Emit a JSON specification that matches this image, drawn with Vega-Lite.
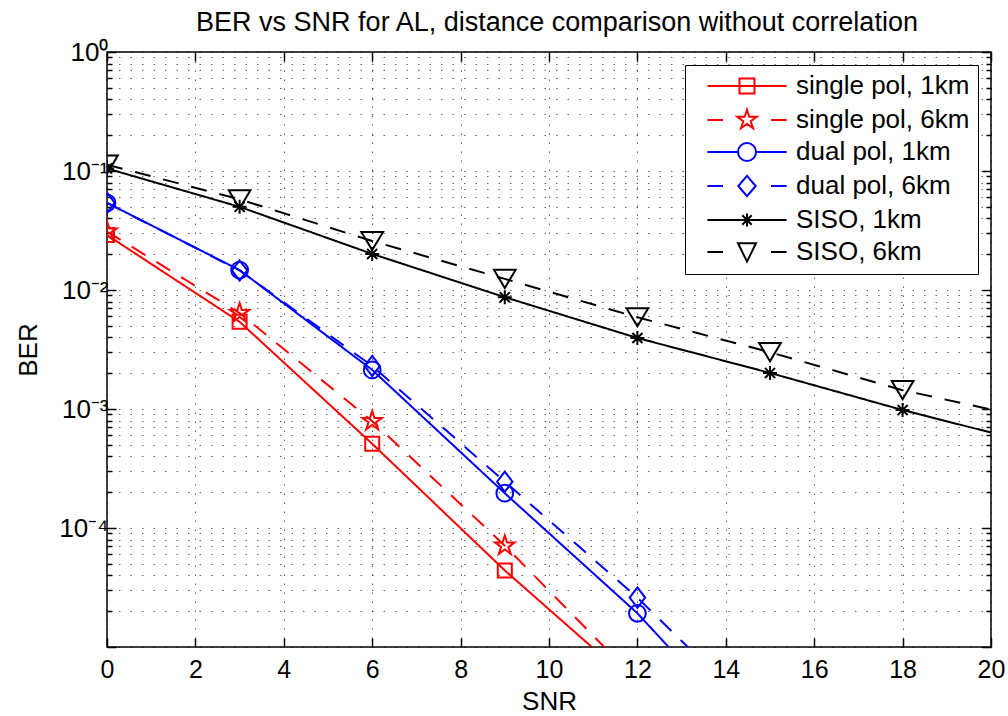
{
  "$schema": "https://vega.github.io/schema/vega-lite/v6.json",
  "width": 884,
  "height": 595,
  "autosize": {"type": "none"},
  "padding": {"left": 107, "top": 52, "right": 17, "bottom": 69},
  "background": "white",
  "title": {"text": "BER vs SNR for AL, distance comparison without correlation", "font": "Liberation Sans", "fontSize": 27, "fontWeight": "normal", "color": "black", "anchor": "middle", "offset": 2, "dx": 8},
  "data": {"values": [
    {"series": "single pol, 1km", "snr": 0, "ber": 0.029},
    {"series": "single pol, 1km", "snr": 3, "ber": 0.0054},
    {"series": "single pol, 1km", "snr": 6, "ber": 0.00051},
    {"series": "single pol, 1km", "snr": 9, "ber": 0.000044},
    {"series": "single pol, 1km", "snr": 12, "ber": 0.0000046},
    {"series": "single pol, 6km", "snr": 0, "ber": 0.031},
    {"series": "single pol, 6km", "snr": 3, "ber": 0.0064},
    {"series": "single pol, 6km", "snr": 6, "ber": 0.00079},
    {"series": "single pol, 6km", "snr": 9, "ber": 0.000071},
    {"series": "single pol, 6km", "snr": 12, "ber": 0.0000052},
    {"series": "dual pol, 1km", "snr": 0, "ber": 0.054},
    {"series": "dual pol, 1km", "snr": 3, "ber": 0.0147},
    {"series": "dual pol, 1km", "snr": 6, "ber": 0.00213},
    {"series": "dual pol, 1km", "snr": 9, "ber": 0.000196},
    {"series": "dual pol, 1km", "snr": 12, "ber": 0.0000192},
    {"series": "dual pol, 1km", "snr": 15, "ber": 0.0000012},
    {"series": "dual pol, 6km", "snr": 0, "ber": 0.054},
    {"series": "dual pol, 6km", "snr": 3, "ber": 0.0146},
    {"series": "dual pol, 6km", "snr": 6, "ber": 0.0023},
    {"series": "dual pol, 6km", "snr": 9, "ber": 0.000245},
    {"series": "dual pol, 6km", "snr": 12, "ber": 0.000026},
    {"series": "dual pol, 6km", "snr": 15, "ber": 0.0000021},
    {"series": "SISO, 1km", "snr": 0, "ber": 0.105},
    {"series": "SISO, 1km", "snr": 3, "ber": 0.05},
    {"series": "SISO, 1km", "snr": 6, "ber": 0.0201},
    {"series": "SISO, 1km", "snr": 9, "ber": 0.0087},
    {"series": "SISO, 1km", "snr": 12, "ber": 0.00395},
    {"series": "SISO, 1km", "snr": 15, "ber": 0.00201},
    {"series": "SISO, 1km", "snr": 18, "ber": 0.00098},
    {"series": "SISO, 1km", "snr": 21, "ber": 0.00051},
    {"series": "SISO, 6km", "snr": 0, "ber": 0.113},
    {"series": "SISO, 6km", "snr": 3, "ber": 0.0578},
    {"series": "SISO, 6km", "snr": 6, "ber": 0.0258},
    {"series": "SISO, 6km", "snr": 9, "ber": 0.0124},
    {"series": "SISO, 6km", "snr": 12, "ber": 0.0059},
    {"series": "SISO, 6km", "snr": 15, "ber": 0.003},
    {"series": "SISO, 6km", "snr": 18, "ber": 0.00144},
    {"series": "SISO, 6km", "snr": 21, "ber": 0.00082}
  ]},
  "encoding": {
    "color": {
      "field": "series", "type": "nominal",
      "scale": {"domain": ["single pol, 1km", "single pol, 6km", "dual pol, 1km", "dual pol, 6km", "SISO, 1km", "SISO, 6km"], "range": ["#ff0000", "#ff0000", "#0000ff", "#0000ff", "#000000", "#000000"]},
      "legend": {
        "title": null, "orient": "top-right", "offset": 13, "padding": 8, "rowPadding": 6,
        "symbolSize": 144, "symbolStrokeWidth": 2, "symbolOffset": 41, "labelOffset": 36,
        "labelFont": "Liberation Sans", "labelFontSize": 26, "labelColor": "black", "labelLimit": 500,
        "strokeColor": "black", "fillColor": "white",
        "encode": {
          "symbols": {"update": {
            "shape": {"signal": "datum.value === 'single pol, 1km' ? 'M-6.6,0L6.6,0M-1.25,-1.25L1.25,-1.25L1.25,1.25L-1.25,1.25Z' : datum.value === 'single pol, 6km' ? 'M-6.6,0L-4,0M4,0L6.6,0M0,-1.7L0.382,-0.526L1.617,-0.525L0.618,0.201L0.999,1.375L0,0.65L-0.999,1.375L-0.618,0.201L-1.617,-0.525L-0.382,-0.526Z' : datum.value === 'dual pol, 1km' ? 'M-6.6,0L-1.5,0M1.5,0L6.6,0M1.5,0A1.5,1.5,0,1,1,-1.5,0A1.5,1.5,0,1,1,1.5,0Z' : datum.value === 'dual pol, 6km' ? 'M-6.6,0L-4,0M4,0L6.6,0M0,-1.7L1.45,0L0,1.7L-1.45,0Z' : datum.value === 'SISO, 1km' ? 'M-6.6,0L6.6,0M0,-1.1L0,1.1M-0.78,-0.78L0.78,0.78M-0.78,0.78L0.78,-0.78' : 'M-6.6,0L-4,0M4,0L6.6,0M-1.5,-1.45L1.5,-1.45L0,1.6Z'"},
            "fill": {"value": "transparent"},
            "strokeWidth": {"value": 2},
            "opacity": {"value": 1}
          }}
        }
      }
    }
  },
  "layer": [
    {
      "mark": {"type": "line", "clip": true, "strokeWidth": 2},
      "encoding": {
        "x": {"field": "snr", "type": "quantitative", "scale": {"domain": [0, 20], "nice": false},
          "axis": {"orient": "bottom", "values": [0, 2, 4, 6, 8, 10, 12, 14, 16, 18, 20], "title": "SNR", "tickSize": -9, "labelPadding": 19, "labelFlush": false, "titlePadding": 6, "grid": true, "gridDash": [1.5, 7.5]}},
        "y": {"field": "ber", "type": "quantitative", "scale": {"type": "log", "domain": [0.00001, 1], "nice": false},
          "axis": {"orient": "left", "title": "BER", "titlePadding": 17, "labelFlush": false, "labelFontSize": 26,
            "values": [0.00001, 0.00002, 0.00003, 0.00004, 0.00005, 0.00006, 0.00007, 0.00008, 0.00009, 0.0001, 0.0002, 0.0003, 0.0004, 0.0005, 0.0006, 0.0007, 0.0008, 0.0009, 0.001, 0.002, 0.003, 0.004, 0.005, 0.006, 0.007, 0.008, 0.009, 0.01, 0.02, 0.03, 0.04, 0.05, 0.06, 0.07, 0.08, 0.09, 0.1, 0.2, 0.3, 0.4, 0.5, 0.6, 0.7, 0.8, 0.9, 1],
            "labelExpr": "abs(log(datum.value)/LN10 - round(log(datum.value)/LN10)) < 0.001 && datum.value > 0.00005 ? '10' + ['⁰','⁻¹','⁻²','⁻³','⁻⁴'][-round(log(datum.value)/LN10)] : ''",
            "tickSize": {"condition": {"test": "abs(log(datum.value)/LN10 - round(log(datum.value)/LN10)) < 0.001", "value": -9}, "value": -5},
            "labelPadding": 8, "grid": true, "gridDash": [1.5, 10]}},
        "strokeDash": {"field": "series", "type": "nominal", "legend": null,
          "scale": {"domain": ["dual pol, 1km", "dual pol, 6km", "SISO, 1km", "SISO, 6km", "single pol, 1km", "single pol, 6km"], "range": [[1, 0], [16, 13], [1, 0], [16, 13], [1, 0], [16, 13]]}}
      }
    },
    {
      "mark": {"type": "point", "clip": true, "filled": false, "strokeWidth": 2, "size": 196, "opacity": 1},
      "encoding": {
        "x": {"field": "snr", "type": "quantitative", "scale": {"domain": [0, 20], "nice": false},
          "axis": {"orient": "top", "values": [0, 2, 4, 6, 8, 10, 12, 14, 16, 18, 20], "title": null, "labels": false, "tickSize": -9, "grid": false}},
        "y": {"field": "ber", "type": "quantitative", "scale": {"type": "log", "domain": [0.00001, 1], "nice": false},
          "axis": {"orient": "right", "title": null, "labels": false, "grid": false,
            "values": [0.00001, 0.00002, 0.00003, 0.00004, 0.00005, 0.00006, 0.00007, 0.00008, 0.00009, 0.0001, 0.0002, 0.0003, 0.0004, 0.0005, 0.0006, 0.0007, 0.0008, 0.0009, 0.001, 0.002, 0.003, 0.004, 0.005, 0.006, 0.007, 0.008, 0.009, 0.01, 0.02, 0.03, 0.04, 0.05, 0.06, 0.07, 0.08, 0.09, 0.1, 0.2, 0.3, 0.4, 0.5, 0.6, 0.7, 0.8, 0.9, 1],
            "tickSize": {"condition": {"test": "abs(log(datum.value)/LN10 - round(log(datum.value)/LN10)) < 0.001", "value": -9}, "value": -5}}},
        "shape": {"field": "series", "type": "nominal", "legend": null,
          "scale": {"domain": ["SISO, 6km", "SISO, 1km", "dual pol, 6km", "dual pol, 1km", "single pol, 6km", "single pol, 1km"],
            "range": ["M-1.55,-1.3L1.55,-1.3L0,1.3Z", "M0,-1L0,1M-1,0L1,0M-0.72,-0.72L0.72,0.72M-0.72,0.72L0.72,-0.72", "M0,-1.45L1.1,0L0,1.45L-1.1,0Z", "M1.2,0A1.2,1.2,0,1,1,-1.2,0A1.2,1.2,0,1,1,1.2,0Z", "M0,-1.45L0.323,-0.445L1.379,-0.448L0.523,0.17L0.852,1.173L0,0.55L-0.852,1.173L-0.523,0.17L-1.379,-0.448L-0.323,-0.445Z", "M-1,-1L1,-1L1,1L-1,1Z"]}}
      }
    }
  ],
  "resolve": {"axis": {"x": "independent", "y": "independent"}},
  "config": {
    "view": {"stroke": "black", "strokeWidth": 1.5},
    "axis": {
      "domain": false,
      "labelFont": "Liberation Sans", "labelFontSize": 25, "labelColor": "black",
      "titleFont": "Liberation Sans", "titleFontSize": 26, "titleFontWeight": "normal", "titleColor": "black",
      "tickColor": "black", "tickWidth": 1.5,
      "gridColor": "#000000", "gridOpacity": 0.6, "gridWidth": 1
    }
  }
}
